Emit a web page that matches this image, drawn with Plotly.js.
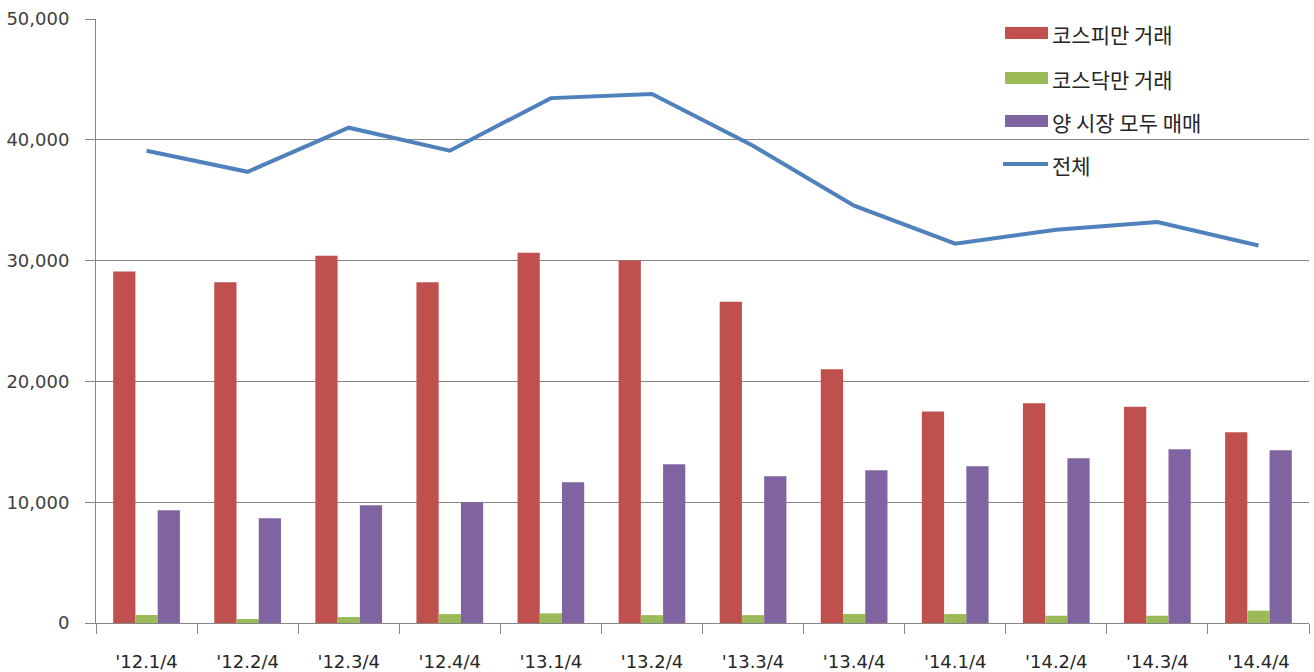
<!DOCTYPE html>
<html>
<head>
<meta charset="utf-8">
<script src="https://cdn.plot.ly/plotly-3.0.1.min.js"></script>
<style>
  html, body { margin: 0; padding: 0; background: #ffffff; }
  #chart { width: 1314px; height: 672px; }
</style>
</head>
<body>
<div id="chart"></div>
<script>
var categories = ["'12.1/4", "'12.2/4", "'12.3/4", "'12.4/4", "'13.1/4", "'13.2/4", "'13.3/4", "'13.4/4", "'14.1/4", "'14.2/4", "'14.3/4", "'14.4/4"];
var kospiOnly  = [29100, 28200, 30400, 28200, 30650, 30000, 26600, 21000, 17500, 18200, 17900, 15800];
var kosdaqOnly = [660, 330, 500, 740, 800, 650, 650, 750, 740, 600, 600, 1020];
var bothMarkets = [9340, 8680, 9750, 10000, 11650, 13140, 12150, 12640, 12970, 13640, 14380, 14300];
var total = [39100, 37350, 41000, 39100, 43450, 43800, 39500, 34550, 31400, 32550, 33200, 31250];
var seriesNames = ["코스피만 거래", "코스닥만 거래", "양 시장 모두 매매", "전체"];
var yTickVals = [0, 10000, 20000, 30000, 40000, 50000];
var yTickText = ["0", "10,000", "20,000", "30,000", "40,000", "50,000"];

var colors = ["#C0504D", "#9BBB59", "#8064A2", "#4F81BD"];

var ML = 96, MR = 5, MT = 19, MB = 49;
var W = 1314 - ML - MR, H = 672 - MT - MB;
function px(x) { return (x - ML) / W; }
function py(y) { return (672 - MB - y) / H; }

var traces = [
  { type: "bar", name: seriesNames[0], x: categories, y: kospiOnly, marker: { color: colors[0] }, showlegend: false },
  { type: "bar", name: seriesNames[1], x: categories, y: kosdaqOnly, marker: { color: colors[1] }, showlegend: false },
  { type: "bar", name: seriesNames[2], x: categories, y: bothMarkets, marker: { color: colors[2] }, showlegend: false },
  { type: "scatter", mode: "lines", name: seriesNames[3], x: categories, y: total, line: { color: colors[3], width: 4 }, showlegend: false }
];

// manual legend
var legendY = [33, 78, 121, 164];
var shapes = [];
var annotations = [];
for (var i = 0; i < 4; i++) {
  if (i < 3) {
    shapes.push({ type: "rect", xref: "paper", yref: "paper",
      x0: px(1005), x1: px(1048), y0: py(legendY[i] + 6), y1: py(legendY[i] - 6),
      fillcolor: colors[i], line: { width: 0 } });
  } else {
    shapes.push({ type: "line", xref: "paper", yref: "paper",
      x0: px(1003), x1: px(1048), y0: py(legendY[i]), y1: py(legendY[i]),
      line: { color: colors[i], width: 4 } });
  }
  annotations.push({ xref: "paper", yref: "paper", x: px(1050), y: py(legendY[i] + 1),
    xanchor: "left", yanchor: "middle", showarrow: false, text: seriesNames[i],
    font: { family: "Noto Sans CJK KR", size: 21, color: "#262626" } });
}

var layout = {
  width: 1314, height: 672,
  margin: { l: ML, r: MR, t: MT, b: MB, pad: 0 },
  paper_bgcolor: "#ffffff", plot_bgcolor: "#ffffff",
  barmode: "group", bargap: 0.34, bargroupgap: 0,
  showlegend: false,
  font: { family: "DejaVu Sans", size: 18, color: "#404040" },
  xaxis: {
    type: "category", showgrid: false, showline: true, linecolor: "#868686", linewidth: 1,
    ticks: "outside", ticklen: 10, tickcolor: "#868686", tickson: "boundaries",
    tickfont: { family: "DejaVu Sans", size: 18, color: "#262626" },
    ticklabelstandoff: 22, zeroline: false, automargin: false
  },
  yaxis: {
    range: [0, 50000], tickvals: yTickVals, ticktext: yTickText,
    showgrid: true, gridcolor: "#868686", gridwidth: 1,
    showline: true, linecolor: "#868686", linewidth: 1,
    ticks: "outside", ticklen: 10, tickcolor: "#868686",
    tickfont: { family: "DejaVu Sans", size: 18, color: "#404040" },
    ticklabelstandoff: 12, zeroline: false, fixedrange: true, automargin: false
  },
  shapes: shapes,
  annotations: annotations
};

Plotly.newPlot("chart", traces, layout, { displayModeBar: false, staticPlot: true });
</script>
</body>
</html>
